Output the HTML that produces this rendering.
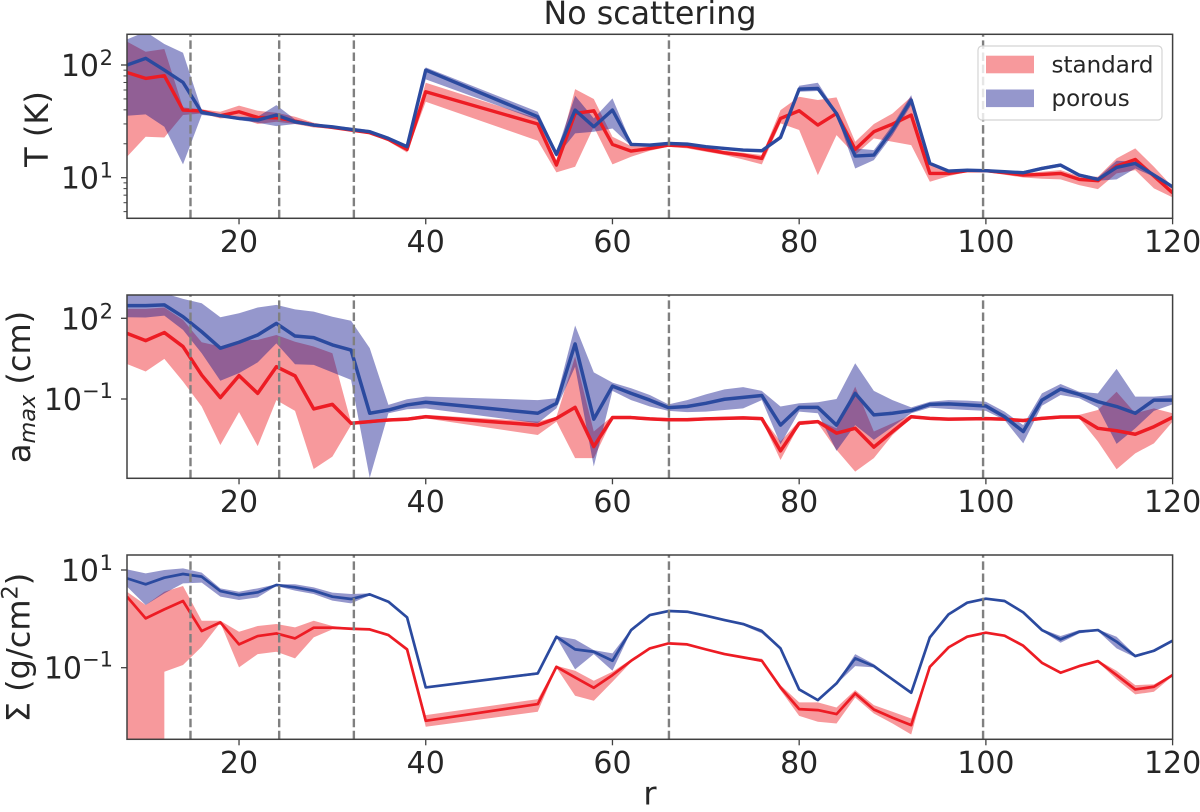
<!DOCTYPE html>
<html>
<head>
<meta charset="utf-8">
<title>No scattering</title>
<style>
html,body{margin:0;padding:0;background:#fff;width:1200px;height:812px;overflow:hidden}
svg{display:block}
text{font-family:"DejaVu Sans","Liberation Sans",sans-serif;fill:#262626}
</style>
</head>
<body>
<svg id="chart" xmlns="http://www.w3.org/2000/svg" width="1200" height="812" viewBox="0 0 1200 812">
<text x="650" y="24" font-size="31.7" text-anchor="middle">No scattering</text>
<text transform="translate(48,129) rotate(-90)" font-size="32" text-anchor="middle">T (K)</text>
<text transform="translate(30,387) rotate(-90)" font-size="32" text-anchor="middle">a<tspan font-size="22.4" font-style="italic" dy="5">max</tspan><tspan dy="-5"> (cm)</tspan></text>
<text transform="translate(29.5,647.5) rotate(-90)" font-size="32" text-anchor="middle">Σ (g/cm<tspan font-size="22.4" dy="-12">2</tspan><tspan dy="12">)</tspan></text>
<text x="650" y="804.5" font-size="32" text-anchor="middle">r</text>
</svg>
<script>
// All series are log10 of the plotted quantity, at each radius r.
// A null lower bound means the value is non-positive, so it falls off the log axis.
const radii = [8,10,12,14,16,18,20,22,24,26,28,30,32,34,36,38,40,52,54,56,58,60,62,64,66,68,70,72,74,76,78,80,82,84,86,88,90,92,94,96,98,100,102,104,106,108,110,112,114,116,118,120];
const ringRadii = [14.8,24.3,32.3,66.05,99.7];
const xTickValues = [20,40,60,80,100,120];

const tempStdLine = [1.934,1.881,1.905,1.600,1.591,1.550,1.585,1.535,1.532,1.502,1.467,1.446,1.423,1.399,1.340,1.251,1.763,1.476,1.112,1.570,1.594,1.295,1.236,1.260,1.289,1.281,1.251,1.221,1.201,1.171,1.526,1.594,1.467,1.570,1.251,1.408,1.476,1.556,1.038,1.038,1.062,1.062,1.044,1.023,1.029,1.038,0.985,0.973,1.103,1.162,1.014,0.866];
const tempStdUpper = [2.207,2.118,2.142,1.624,1.606,1.585,1.639,1.594,1.576,1.541,1.488,1.458,1.437,1.414,1.357,1.281,1.843,1.526,1.156,1.786,1.698,1.363,1.281,1.275,1.304,1.298,1.269,1.239,1.221,1.201,1.600,1.718,1.689,1.713,1.319,1.476,1.570,1.718,1.112,1.062,1.073,1.073,1.062,1.038,1.053,1.067,1.014,1.008,1.171,1.260,1.097,0.919];
const tempStdLower = [1.186,1.363,1.357,1.556,1.570,1.526,1.535,1.476,1.496,1.476,1.446,1.434,1.414,1.387,1.322,1.224,1.674,1.328,1.047,1.097,1.452,1.118,1.186,1.239,1.275,1.260,1.230,1.201,1.162,1.118,1.482,1.423,1.023,1.378,1.201,1.349,1.319,1.289,0.964,1.014,1.050,1.050,1.026,1.002,0.991,0.985,0.934,0.899,1.038,1.067,0.905,0.825];
const tempPorLine = [2.000,2.059,1.955,1.846,1.579,1.550,1.526,1.511,1.556,1.496,1.467,1.452,1.428,1.408,1.349,1.275,1.955,1.541,1.207,1.600,1.452,1.600,1.295,1.289,1.304,1.298,1.275,1.260,1.245,1.239,1.357,1.786,1.792,1.570,1.192,1.201,1.423,1.689,1.127,1.059,1.067,1.062,1.053,1.044,1.082,1.112,1.023,0.985,1.091,1.127,1.023,0.919];
const tempPorUpper = [2.227,2.295,2.186,2.109,1.600,1.562,1.541,1.541,1.644,1.517,1.482,1.461,1.446,1.423,1.363,1.289,1.979,1.585,1.230,1.727,1.526,1.704,1.310,1.298,1.319,1.310,1.286,1.272,1.257,1.251,1.378,1.816,1.843,1.585,1.260,1.245,1.467,1.733,1.141,1.067,1.076,1.070,1.062,1.059,1.097,1.127,1.038,1.002,1.150,1.141,1.038,0.934];
const tempPorLower = [1.550,1.562,1.452,1.118,1.556,1.541,1.511,1.488,1.458,1.476,1.458,1.443,1.414,1.393,1.334,1.260,1.872,1.511,1.186,1.393,1.408,1.437,1.281,1.281,1.286,1.286,1.263,1.248,1.233,1.227,1.340,1.763,1.769,1.556,1.082,1.156,1.378,1.644,1.112,1.050,1.059,1.053,1.044,1.032,1.067,1.097,1.008,0.973,0.985,1.082,1.008,0.905];

const amaxStdLine = [1.44,1.17,1.47,0.95,-0.11,-0.95,-0.13,-0.79,0.20,-0.14,-1.37,-1.20,-1.90,-1.84,-1.78,-1.75,-1.66,-1.97,-1.72,-1.31,-2.77,-1.69,-1.69,-1.74,-1.77,-1.77,-1.74,-1.72,-1.70,-1.73,-2.93,-1.90,-1.84,-2.27,-2.09,-2.79,-2.21,-1.66,-1.72,-1.75,-1.74,-1.73,-1.75,-1.80,-1.72,-1.67,-1.67,-2.09,-2.18,-2.31,-2.03,-1.68];
const amaxStdUpper = [2.35,2.35,2.40,1.94,1.11,0.95,1.17,1.20,1.38,1.13,0.95,0.70,-1.87,-1.78,-1.72,-1.69,-1.59,-1.84,-1.66,0.58,-2.21,-1.63,-1.63,-1.68,-1.70,-1.70,-1.68,-1.66,-1.64,-1.67,-2.58,-1.82,-1.78,-2.09,-0.54,-2.21,-1.90,-1.59,-1.67,-1.70,-1.69,-1.68,-1.70,-1.74,-1.66,-1.61,-1.59,-1.41,-0.73,-1.53,-1.35,-1.53];
const amaxStdLower = [0.30,0.02,0.49,-0.35,-1.28,-2.71,-1.49,-2.75,-1.04,-1.44,-3.60,-3.14,-1.97,-1.90,-1.84,-1.82,-1.72,-2.34,-1.84,-3.20,-3.20,-1.75,-1.75,-1.80,-1.83,-1.83,-1.80,-1.78,-1.77,-1.79,-3.27,-1.97,-1.90,-2.89,-3.70,-3.20,-2.34,-1.72,-1.78,-1.82,-1.80,-1.79,-1.82,-1.87,-1.78,-1.73,-1.72,-2.58,-3.61,-3.02,-2.65,-1.84];
const amaxPorLine = [2.47,2.47,2.50,2.06,1.50,0.89,1.11,1.38,1.81,1.34,1.28,1.01,0.82,-1.53,-1.41,-1.22,-1.12,-1.53,-1.16,1.05,-1.75,-0.52,-0.79,-1.04,-1.32,-1.28,-1.16,-1.01,-0.94,-0.87,-1.97,-1.31,-1.31,-1.97,-0.79,-1.59,-1.53,-1.43,-1.20,-1.18,-1.22,-1.26,-1.66,-2.21,-1.04,-0.63,-0.83,-1.10,-1.28,-1.53,-1.04,-1.04];
const amaxPorUpper = [2.87,2.93,2.93,2.72,2.56,2.04,2.19,2.40,2.50,2.33,2.25,2.06,1.91,0.89,-1.22,-1.01,-0.91,-1.04,-0.97,1.73,-0.01,-0.39,-0.60,-0.85,-1.20,-1.04,-0.83,-0.64,-0.56,-0.70,-1.28,-1.16,-1.12,-1.00,0.33,-0.70,-1.04,-1.31,-1.10,-1.04,-1.06,-1.10,-1.47,-1.97,-0.79,-0.44,-0.73,-0.79,0.12,-0.91,-0.91,-0.85];
const amaxPorLower = [2.04,2.03,2.10,1.57,0.70,-0.32,-0.04,0.36,1.07,0.29,0.27,-0.01,-0.29,-3.93,-1.53,-1.38,-1.35,-1.90,-1.35,0.20,-3.51,-0.70,-1.04,-1.28,-1.44,-1.49,-1.47,-1.41,-1.35,-1.04,-2.68,-1.47,-1.53,-2.93,-1.97,-2.52,-2.03,-1.53,-1.32,-1.37,-1.41,-1.44,-1.78,-2.65,-1.25,-0.85,-0.97,-1.32,-2.67,-2.09,-1.44,-1.20];

const sigmaStdLine = [0.454,0.010,0.194,0.365,-0.250,-0.072,-0.523,-0.352,-0.298,-0.400,-0.181,-0.181,-0.202,-0.216,-0.332,-0.625,-2.087,-1.745,-0.981,-1.199,-1.411,-1.151,-0.858,-0.605,-0.502,-0.523,-0.625,-0.721,-0.789,-0.858,-1.404,-1.848,-1.868,-1.950,-1.527,-1.855,-2.025,-2.176,-0.981,-0.584,-0.366,-0.284,-0.345,-0.550,-0.899,-1.103,-0.967,-0.864,-1.151,-1.445,-1.390,-1.151];
const sigmaStdUpper = [0.556,0.283,0.556,0.672,-0.038,-0.038,-0.263,-0.147,-0.106,-0.175,-0.038,-0.147,-0.188,-0.202,-0.311,-0.605,-1.971,-1.643,-0.960,-1.062,-1.267,-1.083,-0.830,-0.584,-0.482,-0.502,-0.605,-0.700,-0.769,-0.817,-1.356,-1.711,-1.711,-1.814,-1.459,-1.766,-1.903,-2.039,-0.960,-0.564,-0.345,-0.263,-0.325,-0.530,-0.878,-1.083,-0.946,-0.844,-1.062,-1.356,-1.342,-1.131];
const sigmaStdLower = [null,null,-1.083,-0.946,-0.571,-0.079,-0.994,-0.721,-0.673,-0.810,-0.379,-0.216,-0.216,-0.229,-0.352,-0.639,-2.210,-1.903,-1.001,-1.575,-1.677,-1.288,-0.885,-0.625,-0.523,-0.543,-0.646,-0.741,-0.810,-0.885,-1.459,-1.985,-2.107,-2.142,-1.609,-1.937,-2.142,-2.367,-1.001,-0.605,-0.386,-0.304,-0.366,-0.571,-0.919,-1.124,-0.987,-0.885,-1.240,-1.547,-1.493,-1.172];
const sigmaPorLine = [0.829,0.707,0.843,0.918,0.864,0.570,0.488,0.543,0.693,0.645,0.577,0.454,0.406,0.502,0.351,0.030,-1.404,-1.117,-0.366,-0.625,-0.673,-0.858,-0.229,0.078,0.160,0.146,0.064,-0.024,-0.106,-0.250,-0.605,-1.445,-1.664,-1.322,-0.810,-0.967,-1.240,-1.513,-0.379,0.092,0.331,0.413,0.365,0.133,-0.229,-0.420,-0.263,-0.229,-0.468,-0.762,-0.653,-0.448];
const sigmaPorUpper = [1.014,0.932,1.000,1.034,0.946,0.625,0.556,0.625,0.707,0.707,0.645,0.536,0.508,0.522,0.365,0.044,-1.390,-1.090,-0.352,-0.420,-0.639,-0.707,-0.209,0.092,0.174,0.160,0.078,-0.011,-0.079,-0.216,-0.584,-1.431,-1.650,-1.308,-0.721,-0.926,-1.226,-1.493,-0.366,0.105,0.345,0.426,0.379,0.146,-0.209,-0.352,-0.229,-0.216,-0.366,-0.741,-0.625,-0.420];
const sigmaPorLower = [0.659,0.283,0.522,0.727,0.741,0.454,0.385,0.440,0.672,0.577,0.508,0.372,0.317,0.481,0.338,0.017,-1.418,-1.144,-0.379,-1.035,-0.721,-1.062,-0.250,0.064,0.146,0.133,0.051,-0.038,-0.134,-0.298,-0.625,-1.459,-1.677,-1.336,-0.967,-0.994,-1.254,-1.534,-0.393,0.078,0.317,0.399,0.351,0.119,-0.250,-0.489,-0.298,-0.250,-0.605,-0.789,-0.680,-0.475];

const tempMajorExponents = [2,1];
const tempMinorValues = [5,6,7,8,9,20,30,40,50,60,70,80,90];
const amaxMajorExponents = [2,-1];
const sigmaMajorExponents = [1,-1];

const NS = 'http://www.w3.org/2000/svg';
const svg = document.getElementById('chart');
const xLeft = 127, xRight = 1172.6, rMin = 8, rMax = 120;
const xScale = r => xLeft + (r - rMin) * (xRight - xLeft) / (rMax - rMin);

const panels = [
  {key:'temperature', top:34.3, bottom:218.3, refLog:2, refY:65, perDecade:112.7, lineW:3.4,
   stdLine:tempStdLine, stdUpper:tempStdUpper, stdLower:tempStdLower,
   porLine:tempPorLine, porUpper:tempPorUpper, porLower:tempPorLower,
   majors:tempMajorExponents, minors:tempMinorValues},
  {key:'amax', top:295, bottom:478.3, refLog:2, refY:318.3, perDecade:26.9, lineW:3.5,
   stdLine:amaxStdLine, stdUpper:amaxStdUpper, stdLower:amaxStdLower,
   porLine:amaxPorLine, porUpper:amaxPorUpper, porLower:amaxPorLower,
   majors:amaxMajorExponents, minors:[]},
  {key:'sigma', top:555, bottom:739.3, refLog:1, refY:570, perDecade:48.85, lineW:2.7,
   stdLine:sigmaStdLine, stdUpper:sigmaStdUpper, stdLower:sigmaStdLower,
   porLine:sigmaPorLine, porUpper:sigmaPorUpper, porLower:sigmaPorLower,
   majors:sigmaMajorExponents, minors:[]}
];

function mk(tag, attrs) {
  const el = document.createElementNS(NS, tag);
  for (const k in attrs) el.setAttribute(k, attrs[k]);
  return el;
}

function linePath(values, yScale) {
  return radii.map((r, i) => (i ? 'L' : 'M') + xScale(r).toFixed(2) + ' ' + yScale(values[i]).toFixed(2)).join(' ');
}

function bandPath(upper, lower, yScale, floorY) {
  const up = radii.map((r, i) => xScale(r).toFixed(2) + ' ' + yScale(upper[i]).toFixed(2));
  const low = [];
  radii.forEach((r, i) => {
    const x = xScale(r).toFixed(2);
    if (lower[i] === null) {
      low.push(x + ' ' + floorY);
    } else {
      if (i > 0 && lower[i - 1] === null) low.push(x + ' ' + floorY);
      low.push(x + ' ' + yScale(lower[i]).toFixed(2));
    }
  });
  return 'M' + up.join(' L') + ' L' + low.reverse().join(' L') + ' Z';
}

panels.forEach(p => {
  const yScale = v => p.refY + (p.refLog - v) * p.perDecade;
  const group = mk('g', {});
  
  
  svg.appendChild(group);

  const defs = mk('defs', {});
  const clip = mk('clipPath', {id: 'clip-' + p.key});
  clip.appendChild(mk('rect', {x: xLeft, y: p.top, width: xRight - xLeft, height: p.bottom - p.top}));
  defs.appendChild(clip);
  group.appendChild(defs);

  const plot = mk('g', {'clip-path': 'url(#clip-' + p.key + ')'});
  group.appendChild(plot);

  const stdBand = mk('path', {d: bandPath(p.stdUpper, p.stdLower, yScale, p.bottom), fill: 'rgb(237,28,36)', 'fill-opacity': 0.45});
  
  
  plot.appendChild(stdBand);

  const porBand = mk('path', {d: bandPath(p.porUpper, p.porLower, yScale, p.bottom), fill: 'rgb(19,24,142)', 'fill-opacity': 0.45});
  
  
  plot.appendChild(porBand);

  const stdLine = mk('path', {d: linePath(p.stdLine, yScale), fill: 'none', stroke: '#ed1c24', 'stroke-width': p.lineW, 'stroke-linejoin': 'round'});
  
  
  plot.appendChild(stdLine);

  const porLine = mk('path', {d: linePath(p.porLine, yScale), fill: 'none', stroke: '#2b4a9f', 'stroke-width': p.lineW, 'stroke-linejoin': 'round'});
  
  
  plot.appendChild(porLine);

  ringRadii.forEach(r => {
    const ring = mk('line', {x1: xScale(r), x2: xScale(r), y1: p.bottom, y2: p.top, stroke: '#808080', 'stroke-width': 2.4, 'stroke-dasharray': '8.5 3.6'});
    
    
    plot.appendChild(ring);
  });

  const frame = mk('rect', {x: xLeft, y: p.top, width: xRight - xLeft, height: p.bottom - p.top, fill: 'none', stroke: '#404040', 'stroke-width': 1.5});
  
  
  group.appendChild(frame);

  xTickValues.forEach(v => {
    const tick = mk('line', {x1: xScale(v), x2: xScale(v), y1: p.bottom, y2: p.bottom + 6, stroke: '#404040', 'stroke-width': 1.3});
    
    
    group.appendChild(tick);
    const label = mk('text', {x: xScale(v), y: p.bottom + 33.5, 'font-size': 30, 'text-anchor': 'middle'});
    label.textContent = String(v);
    
    
    group.appendChild(label);
  });

  p.minors.forEach(v => {
    const y = yScale(Math.log10(v));
    const tick = mk('line', {x1: xLeft - 3.5, x2: xLeft, y1: y, y2: y, stroke: '#404040', 'stroke-width': 1});
    
    
    group.appendChild(tick);
  });

  p.majors.forEach(e => {
    const y = yScale(e);
    const tick = mk('line', {x1: xLeft - 6, x2: xLeft, y1: y, y2: y, stroke: '#404040', 'stroke-width': 1.3});
    
    
    group.appendChild(tick);
    const negative = e < 0;
    const base = mk('text', {x: negative ? 82 : 99, y: y + 11, 'font-size': 30, 'text-anchor': 'end'});
    base.textContent = '10';
    
    
    group.appendChild(base);
    const sup = mk('text', {x: 113, y: negative ? y - 1 : y, 'font-size': 21, 'text-anchor': 'end'});
    sup.textContent = String(e).replace('-', '\u2212');
    
    
    group.appendChild(sup);
  });
});

const legend = mk('g', {});


svg.appendChild(legend);

const legendBox = mk('rect', {x: 978, y: 46, width: 184, height: 74, rx: 4, fill: 'rgba(255,255,255,0.8)', stroke: '#d4d4d4', 'stroke-width': 1.2});


legend.appendChild(legendBox);

const stdSwatch = mk('rect', {x: 986, y: 55.7, width: 48, height: 17.6, fill: 'rgb(237,28,36)', 'fill-opacity': 0.45});


legend.appendChild(stdSwatch);

const stdText = mk('text', {x: 1051.5, y: 72.5, 'font-size': 23});
stdText.textContent = 'standard';


legend.appendChild(stdText);

const porSwatch = mk('rect', {x: 986, y: 89.5, width: 48, height: 17.6, fill: 'rgb(19,24,142)', 'fill-opacity': 0.45});


legend.appendChild(porSwatch);

const porText = mk('text', {x: 1051.5, y: 106, 'font-size': 23});
porText.textContent = 'porous';


legend.appendChild(porText);
</script>
</body>
</html>
